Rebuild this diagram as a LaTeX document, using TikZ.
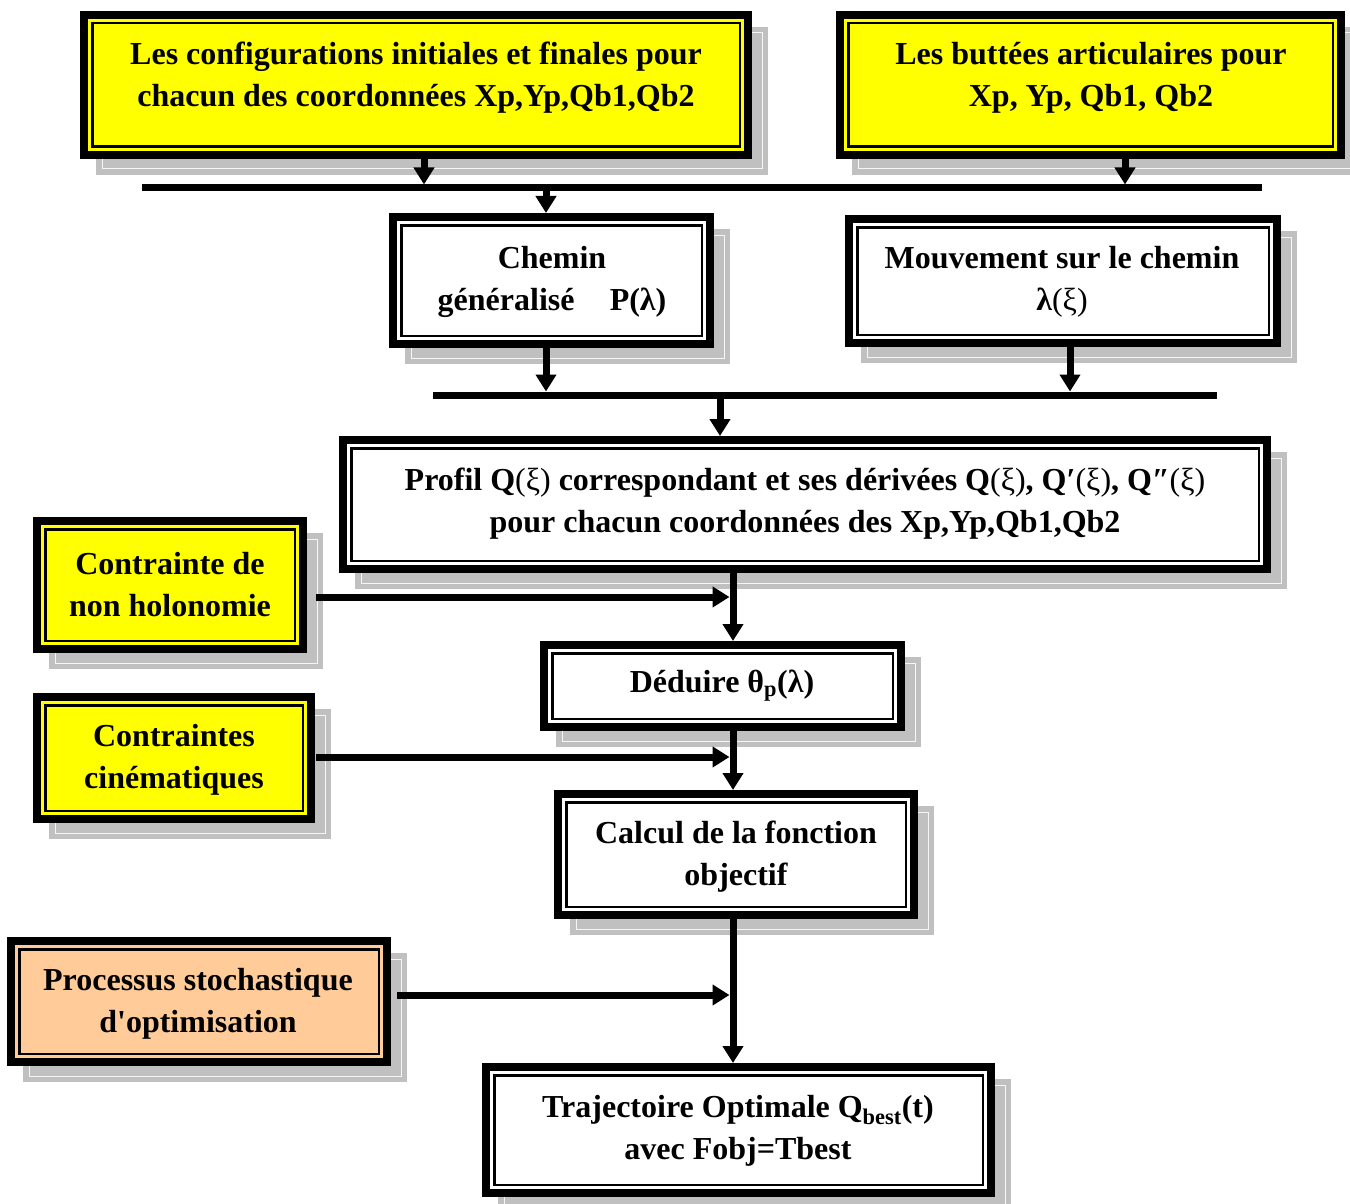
\documentclass[tikz,border=0pt]{standalone}
\usepackage{fontspec}
\setmainfont{Liberation Serif}
\usetikzlibrary{arrows.meta}
\definecolor{yel}{HTML}{FFFF00}
\definecolor{peach}{HTML}{FFCC99}
\definecolor{shad}{HTML}{C0C0C0}
\tikzset{
 outerbox/.style={draw=black, line width=8pt, inner sep=0pt, outer sep=0pt},
 innerline/.style={draw=black, line width=2.5pt},
 shadowbox/.style={fill=shad},
 shadowline/.style={draw=white!85!shad, line width=1pt},
 txt/.style={font=\fontsize{32}{42}\selectfont\bfseries, align=center, inner sep=0pt, yshift=-1.5pt},
 bar/.style={line width=7pt},
 arr/.style={line width=7pt, -{Triangle[width=20pt,length=17pt]}},
}
\newcommand{\dbox}[6]{%
  \fill[shadowbox] ({#2+16},{#3+16}) rectangle ({#4+16},{#5+16});
  \draw[shadowline] ({#2+22},{#3+22}) rectangle ({#4+10},{#5+10});
  \node[outerbox, fill=#6, minimum width={(#4-#2-8)*1pt}, minimum height={(#5-#3-8)*1pt}] (#1) at ({(#2+#4)/2},{(#3+#5)/2}) {};
  \draw[innerline] ([xshift=8.25pt,yshift=-8.25pt]#1.north west) rectangle ([xshift=-8.25pt,yshift=8.25pt]#1.south east);
}
\newcommand{\xir}{{\mdseries(ξ)}}
\begin{document}
\begin{tikzpicture}[x=1pt,y=-1pt]
\useasboundingbox (0,0) rectangle (1350,1204);
\clip (0,0) rectangle (1350,1204);
\dbox{A}{80}{11}{752}{159}{yel}
\dbox{B}{836}{11}{1345}{159}{yel}
\dbox{C}{389}{213}{714}{348}{white}
\dbox{D}{845}{215}{1281}{347}{white}
\dbox{E}{339}{436}{1271}{573}{white}
\dbox{F}{33}{517}{307}{653}{yel}
\dbox{G}{540}{641}{905}{731}{white}
\dbox{H}{33}{693}{315}{823}{yel}
\dbox{I}{554}{790}{918}{919}{white}
\dbox{J}{7}{937}{391}{1066}{peach}
\dbox{K}{482}{1063}{995}{1197}{white}

\node[txt] (tA) at (416,76) {Les configurations initiales et finales pour\\chacun des coordonnées Xp,Yp,Qb1,Qb2};
\node[txt] (tB) at (1091,76) {Les buttées articulaires pour\\Xp, Yp, Qb1, Qb2};
\node[txt] (tC) at (552,280) {Chemin\\généralisé\hspace{1.1em}P(λ)};
\node[txt] (tD) at (1062,280) {Mouvement sur le chemin\\λ\xir};
\node[txt] (tE) at (805,502) {Profil Q\xir{} correspondant et ses dérivées Q\xir, Q′\xir, Q″\xir\\pour chacun coordonnées des Xp,Yp,Qb1,Qb2};
\node[txt] (tF) at (170,583) {Contrainte de\\non holonomie};
\node[txt] (tG) at (722,684) {Déduire θ\textsubscript{p}(λ)};
\node[txt] (tH) at (174,758) {Contraintes\\cinématiques};
\node[txt] (tI) at (736,855) {Calcul de la fonction\\objectif};
\node[txt] (tJ) at (198,1002) {Processus stochastique\\d\textquotesingle optimisation};
\node[txt] (tK) at (738,1129) {Trajectoire Optimale Q\textsubscript{best}(t)\\avec Fobj=Tbest};

% bars
\coordinate (b1L) at (142,188);
\coordinate (b1R) at (1262,188);
\coordinate (b2L) at (433,395);
\coordinate (b2R) at (1217,395);
\draw[bar] (b1L) -- (b1R);
\draw[bar] (b2L) -- (b2R);
% junctions
\coordinate (jA) at (424,188);
\coordinate (jB) at (1125,188);
\coordinate (jC1) at (546,188);
\coordinate (jC2) at (546,395);
\coordinate (jD) at (1070,395);
\coordinate (jE) at (720,395);
\coordinate (vx) at (733,0);
\coordinate (hF) at (733,597);
\coordinate (hH) at (733,757);
\coordinate (hJ) at (733,995);

\draw[arr, shorten >=3.5pt] (A.south -| jA) -- (jA);
\draw[arr, shorten >=3.5pt] (B.south -| jB) -- (jB);
\draw[arr, shorten >=4pt] (jC1) -- (C.north -| jC1);
\draw[arr, shorten >=3.5pt] (C.south -| jC2) -- (jC2);
\draw[arr, shorten >=3.5pt] (D.south -| jD) -- (jD);
\draw[arr, shorten >=4pt] (jE) -- (E.north -| jE);

\draw[arr, shorten >=4pt] (E.south -| vx) -- (G.north -| vx);
\draw[arr, shorten >=4pt] (G.south -| vx) -- (I.north -| vx);
\draw[arr, shorten >=4pt] (I.south -| vx) -- (K.north -| vx);

\draw[arr, shorten <=13pt, shorten >=3.5pt] (F.east |- hF) -- (hF);
\draw[arr, shorten <=5pt, shorten >=3.5pt] (H.east |- hH) -- (hH);
\draw[arr, shorten <=10pt, shorten >=3.5pt] (J.east |- hJ) -- (hJ);
\end{tikzpicture}
\end{document}
